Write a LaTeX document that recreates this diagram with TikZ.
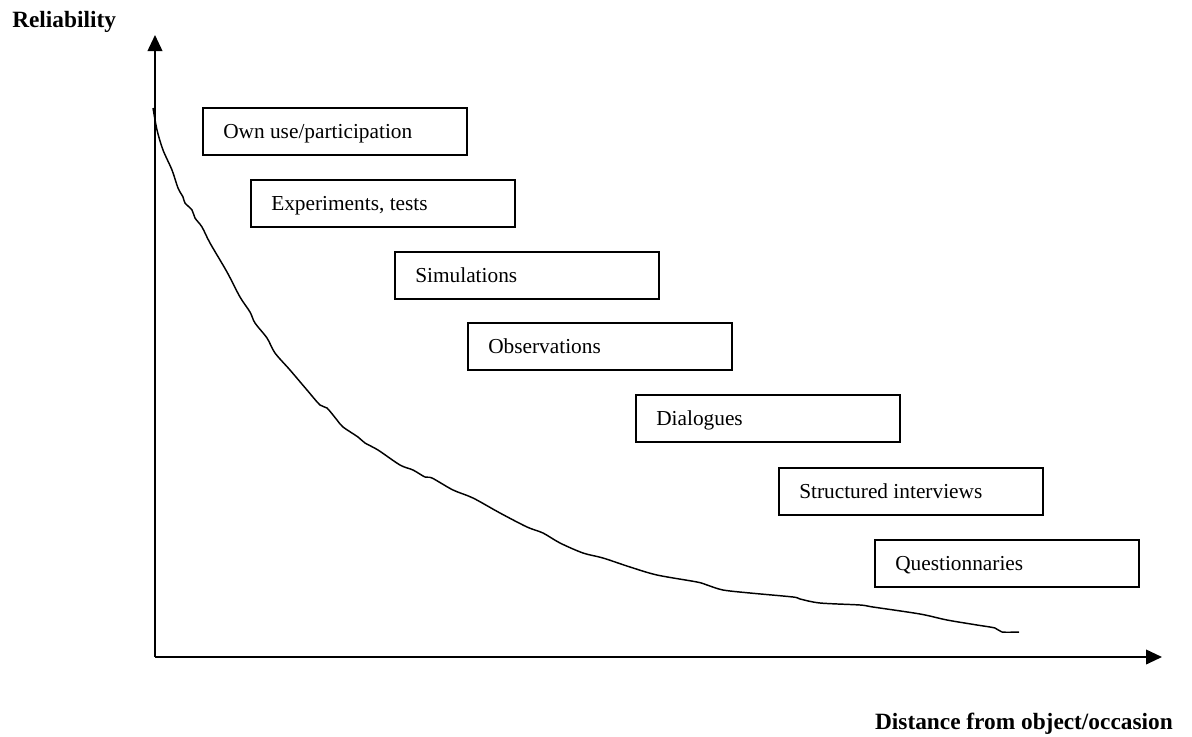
\documentclass[tikz,border=0pt]{standalone}
\usepackage{fontspec}
\setmainfont{Liberation Serif}
\usetikzlibrary{arrows.meta}
\begin{document}
\begin{tikzpicture}[x=0.75pt,y=-0.75pt,
  boxst/.style={draw,line width=1.5pt,minimum width=264*0.75pt,minimum height=47*0.75pt,inner sep=0pt},
  boxtext/.style={inner sep=0pt,font=\fontsize{16}{19}\selectfont},
  lbl/.style={font=\fontsize{17.5}{21}\selectfont\bfseries,inner sep=0pt},
  axis/.style={line width=1.3pt,-{Triangle[length=12pt,width=11pt]}}]
\useasboundingbox (0,0) rectangle (1192,736);
\coordinate (O) at (155,657);
\coordinate (Ytip) at (155,35);
\coordinate (Xtip) at (1162,657);
\draw[axis] (O) -- (Ytip);
\draw[axis] (O) -- (Xtip);
\node[lbl,anchor=base west] (ylab) at (12,27) {Reliability};
\node[lbl,anchor=base east] (xlab) at (1173,729) {Distance from object/occasion};
\foreach \n/\x/\y/\t in {b1/202/107/Own use\slash participation,
  b2/250/179/{Experiments, tests},
  b3/394/251/Simulations,
  b4/467/322/Observations,
  b5/635/394/Dialogues,
  b6/778/467/Structured interviews,
  b7/874/539/Questionnaries}{
  \node[boxst,anchor=north west] (\n) at (\x,\y) {};
  \node[boxtext,anchor=base west] (\n t) at ([xshift=21*0.75pt,yshift=-31*0.75pt]\n.north west) {\t};
}
\draw[line width=1.1pt] plot[smooth,tension=0.5] coordinates {
(153,108) (157,130) (163,150) (172,170) (178,188) (183,197) (185,203) (192,210) (195,218) (202,227)
(210,243) (227,272) (240,297) (250,312) (255,323) (267,338) (275,353) (290,370) (307,390) (320,405)
(327,408) (337,420) (343,427) (358,437) (365,443) (378,450) (400,465) (413,470) (425,477) (432,478)
(453,490) (473,498) (500,513) (527,527) (543,533) (560,543) (583,553) (603,558) (630,567) (657,575)
(697,582) (707,585) (723,590) (750,593) (793,597) (800,599) (820,603) (860,605) (873,607) (920,614)
(947,620) (977,625) (995,628) (1002,632) (1019,632)};
\end{tikzpicture}
\end{document}
